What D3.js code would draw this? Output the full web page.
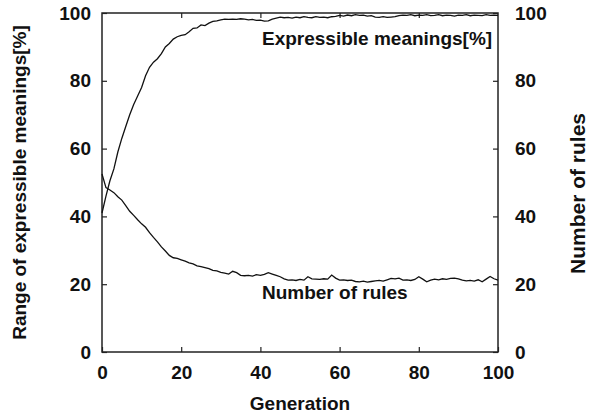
<!DOCTYPE html>
<html>
<head>
<meta charset="utf-8">
<script src="https://cdn.jsdelivr.net/npm/d3@7"></script>
<style>
  html, body { margin: 0; padding: 0; background: #fff; }
  svg { display: block; }
  text { font-family: "Liberation Sans", Arial, Helvetica, sans-serif; font-weight: bold; fill: #111; }
</style>
</head>
<body>
<svg id="chart" width="590" height="419"></svg>
<script>
const generations = d3.range(0, 101);
const meanings = [
  41, 46, 50.5, 54, 59, 63, 66.5, 70, 73, 75.5,
  78, 81.5, 84, 85.5, 86.5, 88, 90, 91, 92.3, 93,
  93.4, 93.6, 94.5, 95.5, 95.6, 96.5, 96.3, 97, 97.5, 97.7,
  98, 98.2, 98.1, 98.2, 98.1, 98.3, 98.2, 98, 98.1, 97.8,
  97.9, 97.6, 97.7, 98.2, 98.5, 98.8, 98.6, 98.7, 98.5, 98.8,
  98.6, 98.9, 98.7, 98.6, 98.9, 98.7, 98.8, 98.6, 98.9, 99.0,
  99.3, 99.1, 99.4, 99.2, 99.5, 99.3, 99.4, 99.1, 99.2, 98.8,
  98.7, 98.9, 98.7, 98.8, 98.9, 99.2, 99.4, 99.3, 99.5, 99.2,
  99.4, 99.3, 99.5, 99.2, 99.3, 99.5, 99.2, 99.4, 99.3, 99.1,
  99.4, 99.3, 99.5, 99.2, 99.4, 99.3, 99.2, 99.5, 99.3, 99.4,
  99.3
];
const rules = [
  52.5, 48.5, 47.8, 47, 45.8, 44.8, 43.2, 41.5, 40.3, 39,
  37.8, 36.8, 35.2, 33.8, 32.5, 31, 29.8, 28.5, 27.8, 27.6,
  27.2, 26.8, 26.3, 26, 25.4, 25.2, 24.9, 24.6, 24.1, 23.9,
  23.5, 23.3, 23, 23.8, 23.4, 22.6, 22.5, 22.6, 22.4, 22.8,
  22.6, 22.9, 23.4, 23, 22.6, 22.2, 21.6, 21.2, 21.3, 21.1,
  21.4, 21.2, 22.2, 21.6, 21.5, 21.4, 21.6, 21.5, 22.7, 21.8,
  21.2, 21.3, 21.1, 21.2, 20.8, 20.7, 20.9, 20.6, 20.8, 21,
  21.1, 20.9, 21.3, 21.7, 21.6, 21.8, 21.2, 21.3, 21.1, 21.4,
  22.2, 21.5, 20.7, 21.2, 21.5, 21.3, 21.6, 21.4, 21.7, 21.8,
  21.6, 21.2, 21.0, 21.1, 20.9, 21.3, 20.7, 21.5, 22.3, 21.6,
  21.2
];
const xTicks = [0, 20, 40, 60, 80, 100];
const yTicks = [0, 20, 40, 60, 80, 100];
const xTitle = "Generation";
const yLeftTitle = "Range of expressible meanings[%]";
const yRightTitle = "Number of rules";
const meaningsLabel = "Expressible meanings[%]";
const rulesLabel = "Number of rules";

const svg = d3.select("#chart");
const L = 102, R = 498, T = 13, B = 352;

const x = d3.scaleLinear().domain([0, 100]).range([L, R]);
const yL = d3.scaleLinear().domain([0, 100]).range([B, T]);
const yR = d3.scaleLinear().domain([0, 100]).range([B, T]);

const fs = 19;
function styleAxis(g) {
  g.select(".domain").remove();
  g.selectAll(".tick line").attr("stroke", "#222").attr("stroke-width", 1.2);
  g.selectAll(".tick text").attr("font-size", fs).attr("font-family", null).style("fill", "#111");
}

// bottom
svg.append("g").attr("transform", `translate(0,${B})`)
  .call(d3.axisBottom(x).tickValues(xTicks).tickSize(-5).tickPadding(13.5).tickFormat(d3.format("d")))
  .call(styleAxis);
// top (no labels)
svg.append("g").attr("transform", `translate(0,${T})`)
  .call(d3.axisTop(x).tickValues(xTicks.slice(1, -1)).tickSize(-5).tickFormat(""))
  .call(styleAxis);
// left
svg.append("g").attr("transform", `translate(${L},0)`)
  .call(d3.axisLeft(yL).tickValues(yTicks).tickSize(-5).tickPadding(11).tickFormat(d3.format("d")))
  .call(styleAxis);
// right
svg.append("g").attr("transform", `translate(${R},0)`)
  .call(d3.axisRight(yR).tickValues(yTicks).tickSize(-5).tickPadding(17).tickFormat(d3.format("d")))
  .call(styleAxis);

// frame
svg.append("rect").attr("x", L).attr("y", T).attr("width", R - L).attr("height", B - T)
  .attr("fill", "none").attr("stroke", "#222").attr("stroke-width", 1.5);

const lineM = d3.line().x((d, i) => x(generations[i])).y(d => yL(d));
const lineR = d3.line().x((d, i) => x(generations[i])).y(d => yR(d));

svg.append("path").datum(meanings).attr("d", lineM)
  .attr("fill", "none").attr("stroke", "#111").attr("stroke-width", 1.3);
svg.append("path").datum(rules).attr("d", lineR)
  .attr("fill", "none").attr("stroke", "#111").attr("stroke-width", 1.3);

// series labels
svg.append("text").attr("x", x(40.4)).attr("y", yL(90.6)).attr("font-size", fs).text(meaningsLabel);
svg.append("text").attr("x", x(40.4)).attr("y", yR(15.5)).attr("font-size", fs).text(rulesLabel);

// axis titles
svg.append("text").attr("x", (L + R) / 2).attr("y", 410).attr("text-anchor", "middle")
  .attr("font-size", fs).text(xTitle);
svg.append("text").attr("transform", `translate(26,${(T + B) / 2}) rotate(-90)`)
  .attr("text-anchor", "middle").attr("font-size", fs).text(yLeftTitle);
svg.append("text").attr("transform", `translate(585,${(T + B) / 2 + 11}) rotate(-90)`)
  .attr("text-anchor", "middle").attr("font-size", 21).text(yRightTitle);
</script>
</body>
</html>
